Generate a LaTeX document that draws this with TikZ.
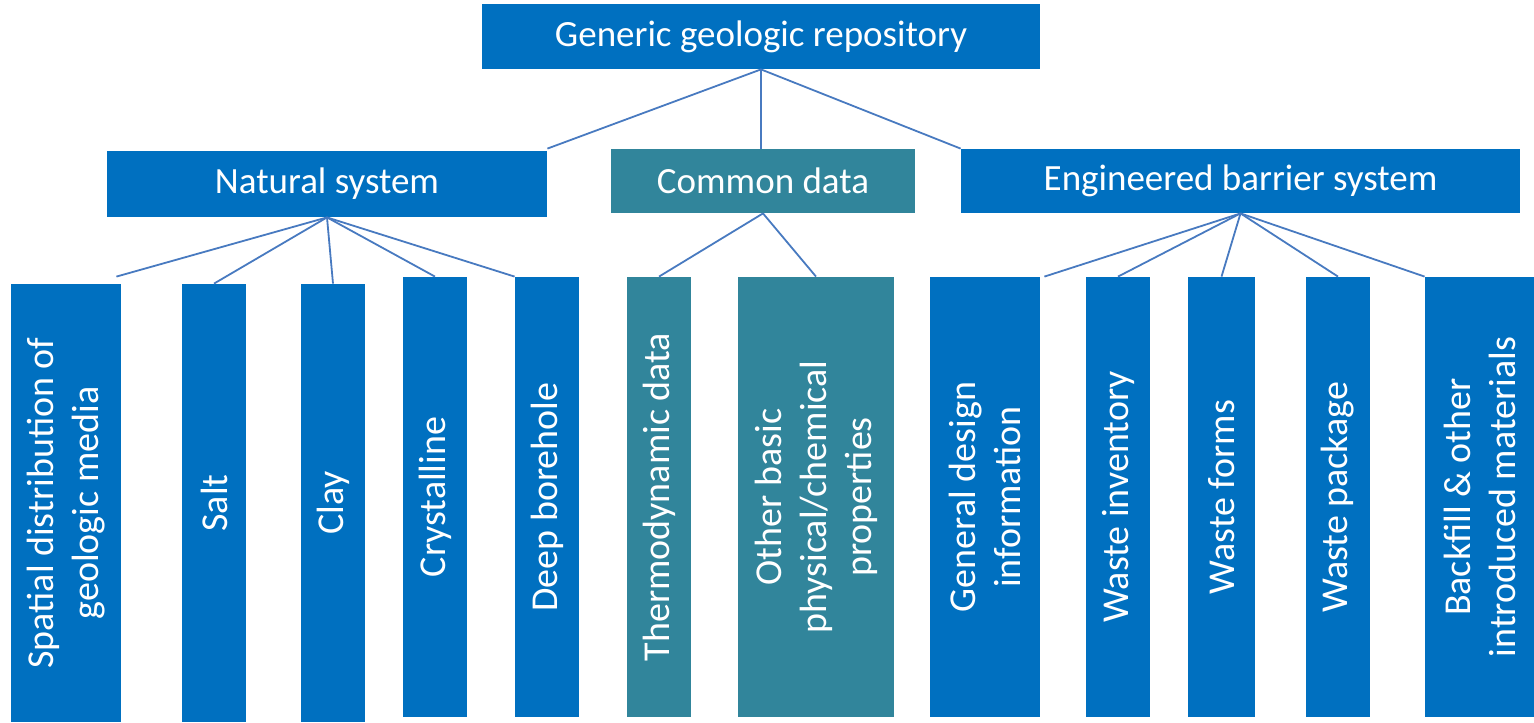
\documentclass[tikz,border=0pt]{standalone}
\usepackage{fontspec}
\setmainfont{Carlito}
\usetikzlibrary{calc}
\definecolor{boxblue}{RGB}{0,112,192}
\definecolor{boxteal}{RGB}{49,133,155}
\definecolor{linkblue}{RGB}{72,122,192}
\begin{document}
\begin{tikzpicture}[x=0.5pt,y=-0.5pt,
  box/.style={fill=boxblue,draw=none,inner sep=0pt,text=white},
  tbox/.style={box,fill=boxteal},
  htext/.style={font=\fontsize{18.5}{22}\selectfont},
  vtext/.style={text=white,rotate=90,align=center,inner sep=0pt,font=\fontsize{19}{22.5}\selectfont},
  link/.style={draw=linkblue,line width=0.9pt}]
\useasboundingbox (0,0) rectangle (1534,722);

% top and second level
\node[box,htext,minimum width=279pt,minimum height=32.5pt] (gen) at (761,36.5) {Generic geologic repository};
\node[box,htext,minimum width=220pt,minimum height=33pt] (nat) at (327,184) {Natural system};
\node[tbox,htext,minimum width=152pt,minimum height=32pt] (cd) at (763,181) {Common data};
\node[box,htext,minimum width=279.5pt,minimum height=32pt] (ebs) at (1240.5,181) {Engineered barrier system};

% natural system leaves
\node[box,minimum width=55pt,minimum height=219pt] (spat) at (66,503) {};
\node[vtext] (spatt) at (spat.center) {Spatial distribution of\\geologic media};
\node[box,minimum width=32pt,minimum height=219pt] (salt) at (214,503) {};
\node[vtext] (saltt) at (salt.center) {Salt};
\node[box,minimum width=32pt,minimum height=219pt] (clay) at (333,503) {};
\node[vtext] (clayt) at (clay.center) {Clay};
\node[box,minimum width=32pt,minimum height=220pt] (cry) at (435,497) {};
\node[vtext] (cryt) at (cry.center) {Crystalline};
\node[box,minimum width=32pt,minimum height=220pt] (deep) at (547,497) {};
\node[vtext] (deept) at (deep.center) {Deep borehole};

% common data leaves
\node[tbox,minimum width=32pt,minimum height=220pt] (thermo) at (659,497) {};
\node[vtext] (thermot) at (thermo.center) {Thermodynamic data};
\node[tbox,minimum width=78pt,minimum height=220pt] (other) at (816,497) {};
\node[vtext] (othert) at (other.center) {Other basic\\physical/chemical\\properties};

% engineered barrier leaves
\node[box,minimum width=55pt,minimum height=220pt] (gdi) at (985,497) {};
\node[vtext] (gdit) at (gdi.center) {General design\\information};
\node[box,minimum width=32pt,minimum height=220pt] (winv) at (1118,497) {};
\node[vtext] (winvt) at (winv.center) {Waste inventory};
\node[box,minimum width=33.5pt,minimum height=220pt] (wf) at (1221.5,497) {};
\node[vtext] (wft) at (wf.center) {Waste forms};
\node[box,minimum width=32pt,minimum height=220pt] (wp) at (1338,497) {};
\node[vtext] (wpt) at (wp.center) {Waste package};
\node[box,minimum width=54.5pt,minimum height=220pt] (bf) at (1479.5,497) {};
\node[vtext] (bft) at (bf.center) {Backfill \& other\\introduced materials};

% connectors
\draw[link] (gen.south) -- ($(nat.north east)+(0,-2)$);
\draw[link] (gen.south) -- (gen.south |- cd.north);
\draw[link] (gen.south) -- (ebs.north west);

\draw[link] (nat.south) -- ($(spat.north east)+(-5,-7)$);
\draw[link] (nat.south) -- (salt.north);
\draw[link] (nat.south) -- (clay.north);
\draw[link] (nat.south) -- (cry.north);
\draw[link] (nat.south) -- (deep.north west);

\draw[link] (cd.south) -- (thermo.north);
\draw[link] (cd.south) -- (other.north);

\draw[link] (ebs.south) -- ($(gdi.north east)+(4,0)$);
\draw[link] (ebs.south) -- (winv.north);
\draw[link] (ebs.south) -- (wf.north);
\draw[link] (ebs.south) -- (wp.north);
\draw[link] (ebs.south) -- (bf.north west);
\end{tikzpicture}
\end{document}
